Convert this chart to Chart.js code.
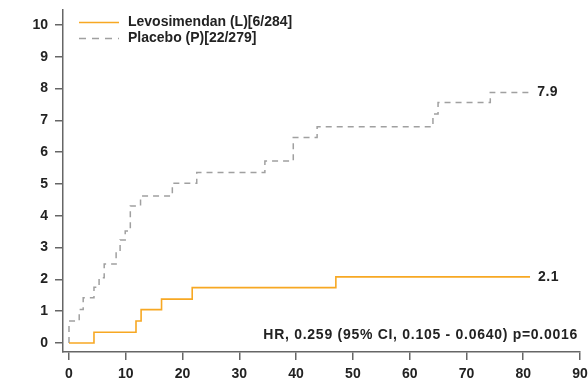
<!DOCTYPE html>
<html>
<head>
<meta charset="utf-8">
<script src="https://cdn.jsdelivr.net/npm/chart.js@4/dist/chart.umd.min.js"></script>
<style>
  html, body { margin: 0; padding: 0; background: #fff; }
  #wrap { width: 588px; height: 384px; position: relative; }
</style>
</head>
<body>
<div id="wrap"><canvas id="km" width="588" height="384"></canvas></div>
<script>
// ===== Data =====
const xTicks = [0, 10, 20, 30, 40, 50, 60, 70, 80, 90];
const yTicks = [0, 1, 2, 3, 4, 5, 6, 7, 8, 9, 10];

const levoLabel = 'Levosimendan (L)[6/284]';
const levoDays = [0, 4.4, 11.8, 12.7, 16.3, 21.7, 47, 81.2];
const levoRates = [0, 0.34, 0.69, 1.05, 1.38, 1.74, 2.08, 2.08];
const levoEnd = '2.1';

const placeboLabel = 'Placebo (P)[22/279]';
const placeboDays = [0, 0, 1.8, 2.5, 4.4, 5.3, 6.2, 8.3, 9.0, 9.9, 10.8, 12.6, 18.2, 22.5, 34.5, 39.5, 43.7, 64.1, 65, 74.2, 81.4];
const placeboRates = [0, 0.69, 1.05, 1.42, 1.75, 2.05, 2.48, 2.87, 3.24, 3.52, 4.31, 4.62, 5.02, 5.36, 5.72, 6.46, 6.8, 7.2, 7.56, 7.88, 7.88];
const placeboEnd = '7.9';

const statsText = 'HR, 0.259 (95% CI, 0.105 - 0.0640) p=0.0016';

const FONT = '"Liberation Sans", Arial, sans-serif';
const TEXT = '#222';
const AXIS = '#666';
const ORANGE = '#f7a823';
const GREY = '#a0a0a0';

const toPoints = (xs, ys) => xs.map((x, i) => ({ x, y: ys[i] }));

// legend, end labels and stats line drawn on top
const annotations = {
  id: 'annotations',
  afterDatasetsDraw(chart) {
    const ctx = chart.ctx;
    const sx = chart.scales.x, sy = chart.scales.y;
    ctx.save();
    ctx.fillStyle = TEXT;
    ctx.font = 'bold 14px ' + FONT;
    ctx.textBaseline = 'middle';

    // legend
    const items = [
      { label: levoLabel, color: ORANGE, dash: [], y: 22 },
      { label: placeboLabel, color: GREY, dash: [7, 6], y: 38 }
    ];
    items.forEach(it => {
      ctx.beginPath();
      ctx.strokeStyle = it.color;
      ctx.lineWidth = 1.5;
      ctx.setLineDash(it.dash);
      ctx.moveTo(79, it.y + 0.5);
      ctx.lineTo(119, it.y + 0.5);
      ctx.stroke();
      ctx.setLineDash([]);
      ctx.textAlign = 'left';
      ctx.fillText(it.label, 128, it.y);
    });

    // end values
    const lastL = levoDays.length - 1, lastP = placeboDays.length - 1;
    ctx.letterSpacing = '0.5px';
    ctx.fillText(levoEnd, sx.getPixelForValue(levoDays[lastL]) + 8, sy.getPixelForValue(levoRates[lastL]));
    ctx.fillText(placeboEnd, sx.getPixelForValue(placeboDays[lastP]) + 6, sy.getPixelForValue(placeboRates[lastP]));

    // stats
    ctx.letterSpacing = '0.72px';
    ctx.textAlign = 'right';
    ctx.fillText(statsText, 578, 335);
    ctx.restore();
  }
};

new Chart(document.getElementById('km'), {
  type: 'line',
  data: {
    datasets: [
      {
        label: levoLabel,
        data: toPoints(levoDays, levoRates),
        borderColor: ORANGE,
        borderWidth: 1.6,
        stepped: true,
        pointRadius: 0
      },
      {
        label: placeboLabel,
        data: toPoints(placeboDays, placeboRates),
        borderColor: GREY,
        borderWidth: 1.5,
        borderDash: [6, 5],
        stepped: true,
        pointRadius: 0
      }
    ]
  },
  options: {
    responsive: false,
    animation: false,
    devicePixelRatio: 1,
    layout: { padding: { top: 10, right: 8, left: 0, bottom: 0 } },
    plugins: { legend: { display: false }, tooltip: { enabled: false } },
    scales: {
      x: {
        type: 'linear',
        min: -1.056,
        max: 90,
        afterBuildTicks: s => { s.ticks = xTicks.map(v => ({ value: v })); },
        afterFit: s => { s.height = 32; s.paddingLeft = 0; s.paddingRight = 0; },
        grid: { drawOnChartArea: false, tickLength: 8, color: AXIS, lineWidth: 1.5 },
        border: { color: AXIS, width: 1.5 },
        ticks: { color: TEXT, padding: 6, autoSkip: false, font: { family: FONT, size: 14, weight: 'bold' }, maxRotation: 0 }
      },
      y: {
        min: -0.283,
        max: 10.47,
        afterBuildTicks: s => { s.ticks = yTicks.map(v => ({ value: v })); },
        afterFit: s => { s.width = 63; s.paddingTop = 0; s.paddingBottom = 0; },
        grid: { drawOnChartArea: false, tickLength: 8, color: AXIS, lineWidth: 1.5 },
        border: { color: AXIS, width: 1.5 },
        ticks: { color: TEXT, padding: 7, autoSkip: false, font: { family: FONT, size: 14, weight: 'bold' } }
      }
    }
  },
  plugins: [annotations]
});
</script>
</body>
</html>
